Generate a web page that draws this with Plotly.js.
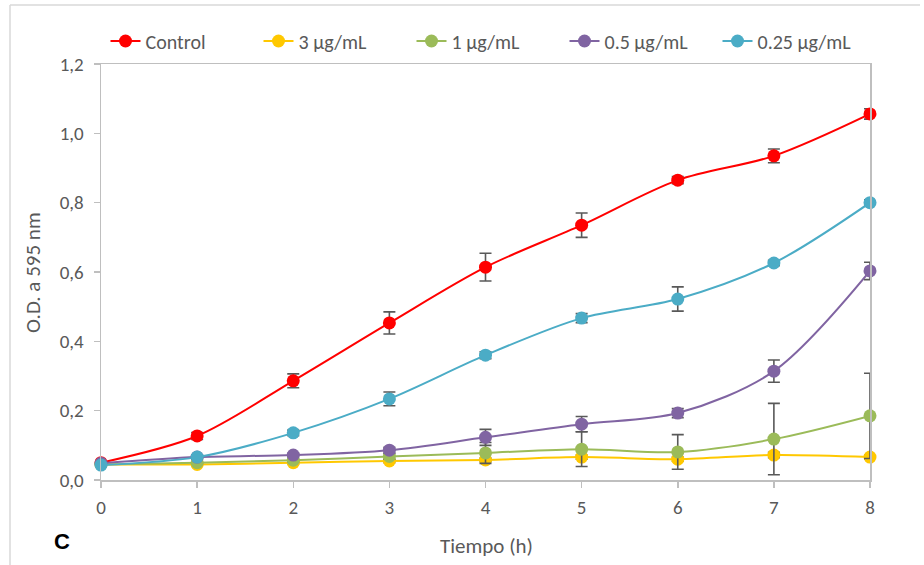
<!DOCTYPE html>
<html>
<head>
<meta charset="utf-8">
<script src="https://cdn.plot.ly/plotly-3.0.1.min.js"></script>
<style>
  html, body { margin: 0; padding: 0; background: #ffffff; }
  #chart { width: 924px; height: 565px; }
</style>
</head>
<body>
<div id="chart"></div>
<script>
const hours = [0, 1, 2, 3, 4, 5, 6, 7, 8];
const xTickLabels = ["0", "1", "2", "3", "4", "5", "6", "7", "8"];
const seriesNames = ["Control", "3 µg/mL", "1 µg/mL", "0.5 µg/mL", "0.25 µg/mL"];

const control    = [0.050, 0.127, 0.286, 0.453, 0.614, 0.735, 0.865, 0.935, 1.056];
const controlErr = [0.005, 0.010, 0.020, 0.032, 0.040, 0.035, 0.010, 0.020, 0.015];

const conc3      = [0.045, 0.045, 0.050, 0.055, 0.058, 0.066, 0.060, 0.072, 0.066];
const conc3Err   = [0.003, 0.003, 0.004, 0.005, 0.005, 0.006, 0.006, 0.008, 0.006];

const conc1      = [0.045, 0.050, 0.057, 0.068, 0.078, 0.089, 0.081, 0.118, 0.185];
const conc1Err   = [0.003, 0.003, 0.005, 0.008, 0.030, 0.050, 0.050, 0.103, 0.123];

const conc05     = [0.048, 0.066, 0.072, 0.086, 0.123, 0.161, 0.193, 0.314, 0.603];
const conc05Err  = [0.003, 0.005, 0.005, 0.008, 0.023, 0.022, 0.013, 0.032, 0.025];

const conc025    = [0.043, 0.066, 0.136, 0.234, 0.360, 0.467, 0.522, 0.626, 0.800];
const conc025Err = [0.003, 0.005, 0.008, 0.020, 0.010, 0.013, 0.035, 0.008, 0.008];

const colors = ["#FF0000", "#FFC800", "#9BBB59", "#8064A2", "#4BACC6"];
const values = [control, conc3, conc1, conc05, conc025];
const errors = [controlErr, conc3Err, conc1Err, conc05Err, conc025Err];

const FONT = "Carlito, Lato, 'Open Sans', sans-serif";

const traces = values.map((v, i) => ({
  x: hours,
  y: v,
  name: seriesNames[i],
  type: "scatter",
  mode: "lines+markers",
  cliponaxis: false,
  line: { color: colors[i], width: 2, shape: "spline", smoothing: 0.9 },
  marker: { color: colors[i], size: 13 },
  error_y: { type: "data", array: errors[i], visible: true, color: "#595959", thickness: 1.6, width: 6 }
}));

// plot area: x 101..870, y 64..480
const L = 101, R = 870, T = 64, B = 480;
const px = (p) => (p - L) / (R - L);
const py = (p) => (B - p) / (B - T);

const layout = {
  width: 924,
  height: 565,
  margin: { l: L, r: 924 - R, t: T, b: 565 - B, autoexpand: false },
  paper_bgcolor: "#ffffff",
  plot_bgcolor: "#ffffff",
  separators: ",.",
  font: { family: FONT, color: "#595959", size: 19 },
  showlegend: true,
  legend: {
    orientation: "h",
    x: px(488), xanchor: "center",
    y: py(41), yanchor: "middle",
    font: { family: FONT, size: 20, color: "#595959" },
    entrywidth: 108,
    itemwidth: 30,
    tracegroupgap: 0
  },
  xaxis: {
    range: [0, 8],
    tickvals: hours,
    ticktext: xTickLabels,
    showgrid: false,
    zeroline: false,
    showline: true,
    mirror: true,
    linecolor: "#BFBFBF",
    linewidth: 1.5,
    ticks: "outside",
    ticklen: 6,
    tickwidth: 1.5,
    tickcolor: "#BFBFBF",
    ticklabelstandoff: 4,
    tickfont: { family: FONT, size: 19, color: "#595959" },
    fixedrange: true
  },
  yaxis: {
    range: [0, 1.2],
    tick0: 0,
    dtick: 0.2,
    tickformat: ".1f",
    showgrid: false,
    zeroline: false,
    showline: true,
    mirror: true,
    linecolor: "#BFBFBF",
    linewidth: 1.5,
    ticks: "outside",
    ticklen: 6,
    tickwidth: 1.5,
    tickcolor: "#BFBFBF",
    ticklabelstandoff: 6,
    tickfont: { family: FONT, size: 19, color: "#595959" },
    fixedrange: true
  },
  annotations: [
    {
      text: "O.D. a 595 nm", xref: "paper", yref: "paper",
      x: px(33), y: py(273), xanchor: "center", yanchor: "middle",
      textangle: -90, showarrow: false,
      font: { family: FONT, size: 21, color: "#595959" }
    },
    {
      text: "Tiempo (h)", xref: "paper", yref: "paper",
      x: px(486), y: py(546), xanchor: "center", yanchor: "middle",
      showarrow: false,
      font: { family: FONT, size: 21, color: "#595959" }
    },
    {
      text: "<b>C</b>", xref: "paper", yref: "paper",
      x: px(62), y: py(541), xanchor: "center", yanchor: "middle",
      showarrow: false,
      font: { family: "Arial, 'Liberation Sans', sans-serif", size: 22, color: "#000000" }
    }
  ],
  shapes: [
    { type: "line", xref: "paper", yref: "paper", x0: px(10), x1: px(920), y0: py(5), y1: py(5),
      line: { color: "#D9D9D9", width: 1.5 } },
    { type: "line", xref: "paper", yref: "paper", x0: px(10), x1: px(10), y0: py(5), y1: py(566),
      line: { color: "#D9D9D9", width: 1.5 } }
  ]
};

Plotly.newPlot("chart", traces, layout, { displayModeBar: false, staticPlot: true });
</script>
</body>
</html>
